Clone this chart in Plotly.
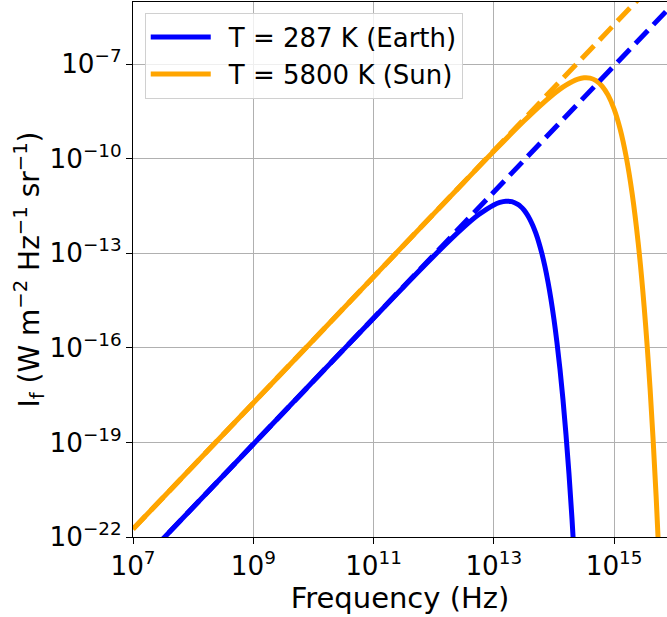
import plotly.graph_objects as go

# log10 frequency (Hz)
logf_earth = [7, 8, 9, 10, 11, 11.5, 12, 12.5, 12.75, 13, 13.1, 13.2, 13.3, 13.4, 13.45, 13.5,
              13.55, 13.6, 13.65, 13.7, 13.75, 13.8, 13.85, 13.9, 13.95, 14.0, 14.05, 14.1,
              14.15, 14.2, 14.25, 14.3, 14.35]
# log10 intensity (W m^-2 Hz^-1 sr^-1)
logI_earth = [-23.055, -21.055, -19.055, -17.055, -15.059, -14.067, -13.091, -12.174, -11.774,
              -11.467, -11.389, -11.350, -11.364, -11.449, -11.524, -11.625, -11.756, -11.922,
              -12.125, -12.371, -12.664, -13.013, -13.422, -13.899, -14.453, -15.093, -15.829,
              -16.673, -17.640, -18.740, -19.993, -21.420, -23.04]

logf_sun = [7, 8, 9, 10, 11, 12, 12.5, 13, 13.5, 13.75, 14, 14.1, 14.2, 14.3, 14.4, 14.5, 14.6,
            14.7, 14.8, 14.9, 15, 15.1, 15.2, 15.3, 15.4, 15.5, 15.6, 15.7, 15.75]
logI_sun = [-21.749, -19.749, -17.749, -15.749, -13.749, -11.751, -10.755, -9.767, -8.807,
            -8.354, -7.941, -7.794, -7.664, -7.556, -7.476, -7.435, -7.445, -7.525, -7.696,
            -7.985, -8.424, -9.055, -9.927, -11.101, -12.657, -14.695, -17.337, -20.741, -22.788]

# Rayleigh-Jeans limits
logf_rj = [7, 9, 11, 13, 15, 16]
logI_rj_earth = [-23.055, -19.055, -15.055, -11.055, -7.055, -5.055]
logI_rj_sun = [-21.749, -17.749, -13.749, -9.749, -5.749, -3.749]

names = ["T = 287 K (Earth)", "T = 5800 K (Sun)"]

def p(v):
    return [10 ** x for x in v]

BLUE = "#0000ff"
ORANGE = "#ffa500"
GAP = "\u2002"

fig = go.Figure()
fig.add_trace(go.Scatter(x=p(logf_earth), y=p(logI_earth), mode="lines", name=GAP + names[0],
                         line=dict(color=BLUE, width=5, shape="spline")))
fig.add_trace(go.Scatter(x=p(logf_sun), y=p(logI_sun), mode="lines", name=GAP + names[1],
                         line=dict(color=ORANGE, width=5, shape="spline")))
fig.add_trace(go.Scatter(x=p(logf_rj), y=p(logI_rj_earth), mode="lines", showlegend=False,
                         line=dict(color=BLUE, width=5, dash="18px,8px")))
fig.add_trace(go.Scatter(x=p(logf_rj), y=p(logI_rj_sun), mode="lines", showlegend=False,
                         line=dict(color=ORANGE, width=5, dash="18px,8px")))

axis_common = dict(
    type="log", exponentformat="power", showgrid=True, gridcolor="#b0b0b0", gridwidth=1,
    showline=True, linecolor="black", linewidth=1.3, ticks="outside", ticklen=6,
    tickcolor="black", tickfont=dict(size=21, color="black"), mirror=True, zeroline=False,
    automargin=False,
)
fig.update_xaxes(range=[7, 15.88], tick0=7, dtick=2,
                 title=dict(text="Frequency (Hz)", font=dict(size=29, color="black"), standoff=0),
                 **axis_common)
fig.update_yaxes(range=[-22, -5.03], tick0=-22, dtick=3,
                 title=dict(text="I<sub>f</sub> (W m<sup>−2</sup> Hz<sup>−1</sup> sr<sup>−1</sup>)",
                            font=dict(size=28, color="black"), standoff=0),
                 **axis_common)

fig.update_layout(
    width=667, height=617,
    margin=dict(l=133, r=0, t=2, b=80),
    plot_bgcolor="white", paper_bgcolor="white",
    font=dict(family="DejaVu Sans", color="black"),
    legend=dict(x=0.022, y=0.98, xanchor="left", yanchor="top", bgcolor="rgba(255,255,255,0.8)",
                bordercolor="#d0d0d0", borderwidth=1, font=dict(size=26), itemwidth=60,
                tracegroupgap=0),
)

fig.write_html("out.html", config={"displayModeBar": False},
               post_script="document.body.style.margin='0';")
